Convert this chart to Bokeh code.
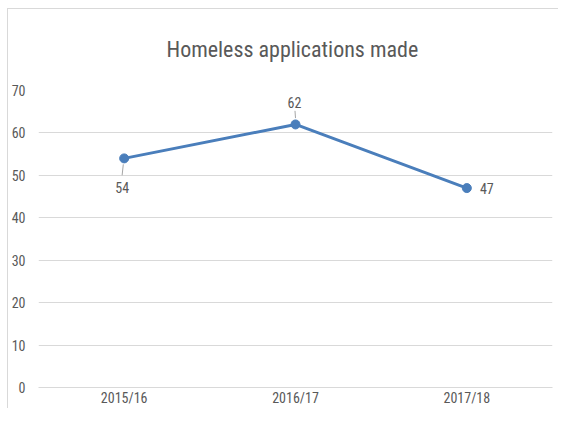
from bokeh.plotting import figure
from bokeh.models import Range1d, FactorRange, Title, ColumnDataSource
from bokeh.core.properties import value
from bokeh.embed import file_html
from bokeh.resources import INLINE

years = ["2015/16", "2016/17", "2017/18"]
applications = [54, 62, 47]
label_side = ["below", "above", "right"]
y_ticks = [0, 10, 20, 30, 40, 50, 60, 70]
title_text = "Homeless applications made"

FONT = "Liberation Sans Narrow, Arial Narrow, Roboto Condensed, sans-serif"
TXT = "#595959"
BLUE = "#4a7ebb"
GRID = "#d9d9d9"
W, H = 558, 408

p = figure(width=W, height=H, output_backend="svg", toolbar_location=None,
           x_range=FactorRange(factors=years, range_padding=0),
           y_range=Range1d(0, 70),
           min_border_left=38, min_border_right=6, min_border_top=90,
           min_border_bottom=16, outline_line_color=None,
           background_fill_color="white", border_fill_alpha=0)

# chart area border (top and left edges visible), drawn behind the transparent canvas border
p.styles = {
    "background": ("linear-gradient(#d9d9d9, #d9d9d9) 7px 8px / 1px 100% no-repeat, "
                   "linear-gradient(#d9d9d9, #d9d9d9) 7px 8px / 100% 1px no-repeat, white")
}

p.title = Title(text=title_text, align="left", vertical_align="top", offset=128,
                text_font=FONT, text_font_size="22px", text_font_style="normal",
                text_color=TXT, standoff=54)

p.xgrid.grid_line_color = None
p.ygrid.grid_line_color = GRID
p.ygrid.grid_line_width = 1
p.yaxis.ticker = y_ticks
p.yaxis.axis_line_color = None
p.xaxis.axis_line_color = GRID
for ax in (p.xaxis, p.yaxis):
    ax.major_tick_line_color = None
    ax.minor_tick_line_color = None
    ax.major_tick_out = 0
    ax.major_tick_in = 0
    ax.minor_tick_out = 0
    ax.major_label_text_font = FONT
    ax.major_label_text_font_size = "14px"
    ax.major_label_text_color = TXT
p.yaxis.major_label_standoff = 13
p.xaxis.major_label_standoff = 2

src = ColumnDataSource(dict(x=years, y=applications))
p.line("x", "y", source=src, line_color=BLUE, line_width=3)
p.scatter("x", "y", source=src, size=9, fill_color=BLUE, line_color=BLUE)

# data labels with leader lines
offsets = {"below": (-2, -29, "center", "middle"),
           "above": (-1, 22, "center", "middle"),
           "right": (20, 0, "center", "middle")}
for yr, v, side in zip(years, applications, label_side):
    dx, dy, al, bl = offsets[side]
    p.text(x=[yr], y=[v], text=[str(v)], x_offset=dx, y_offset=-dy,
           text_font=value(FONT), text_font_size="14px", text_color=TXT,
           text_align=al, text_baseline=bl)
    if side == "below":
        p.segment(x0=[(yr, -0.005)], y0=[v - 1.4], x1=[(yr, -0.012)], y1=[v - 4.0],
                  line_color="#a6a6a6", line_width=1)
    elif side == "above":
        p.segment(x0=[(yr, 0.0)], y0=[v + 1.5], x1=[(yr, -0.003)], y1=[v + 3.2],
                  line_color="#a6a6a6", line_width=1)

open("out.html", "w").write(file_html(p, INLINE))
